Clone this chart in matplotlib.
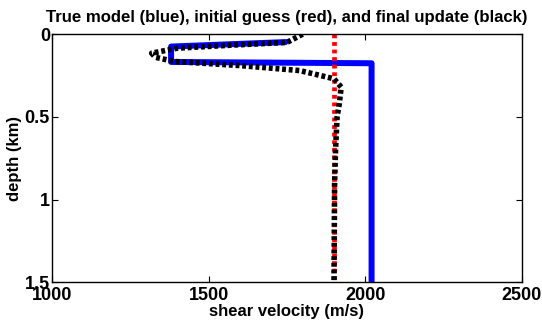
#!/usr/bin/env python3
import matplotlib
matplotlib.use("Agg")
import matplotlib.pyplot as plt

# true model (blue)
true_vs = [1745, 1380, 1380, 2020, 2020]
true_z = [0.048, 0.075, 0.168, 0.176, 1.5]

# initial guess (red)
init_vs = [1900, 1900]
init_z = [0.0, 1.5]

# final update (black)
final_vs = [1800, 1750, 1560, 1400, 1318, 1330, 1390, 1600, 1790, 1857, 1900,
            1923, 1917, 1910, 1905, 1902, 1900]
final_z = [0.0, 0.05, 0.068, 0.085, 0.115, 0.14, 0.165, 0.19, 0.22, 0.25, 0.27,
           0.32, 0.42, 0.5, 0.7, 0.9, 1.5]

xticks = [1000, 1500, 2000, 2500]
yticks = [0, 0.5, 1, 1.5]
ytick_labels = ["0", "0.5", "1", "1.5"]

plt.rcParams["font.family"] = ["Liberation Sans", "DejaVu Sans"]
plt.rcParams["font.weight"] = "bold"

fig = plt.figure(figsize=(5.42, 3.22), dpi=100)
ax = fig.add_axes([0.096, 0.123, 0.867, 0.771])

ax.plot(true_vs, true_z, color="#0000ff", lw=4.3, solid_capstyle="round",
        solid_joinstyle="round")
ax.plot(init_vs, init_z, color="#ff0000", lw=3.4, linestyle=(0, (0.8, 0.8)))
ax.plot(final_vs, final_z, color="black", lw=4.0, linestyle=(0, (0.7, 0.5)))

ax.set_xlim(1000, 2500)
ax.set_ylim(1.5, 0)
ax.set_xticks(xticks)
ax.set_yticks(yticks)
ax.set_yticklabels(ytick_labels)

ax.tick_params(direction="in", top=True, right=True, length=4, width=0.8,
               labelsize=13)
ax.tick_params(axis="x", pad=3)
ax.tick_params(axis="y", pad=1.5)
for lab in ax.get_xticklabels() + ax.get_yticklabels():
    lab.set_fontweight("bold")
for s in ax.spines.values():
    s.set_linewidth(1.0)

ax.set_xlabel("shear velocity (m/s)", fontsize=12, fontweight="bold", labelpad=0)
ax.set_ylabel("depth (km)", fontsize=12, fontweight="bold", labelpad=2)
ax.set_title("True model (blue), initial guess (red), and final update (black)",
             fontsize=12.1, fontweight="bold", pad=9)

fig.savefig("out.png", dpi=100)
